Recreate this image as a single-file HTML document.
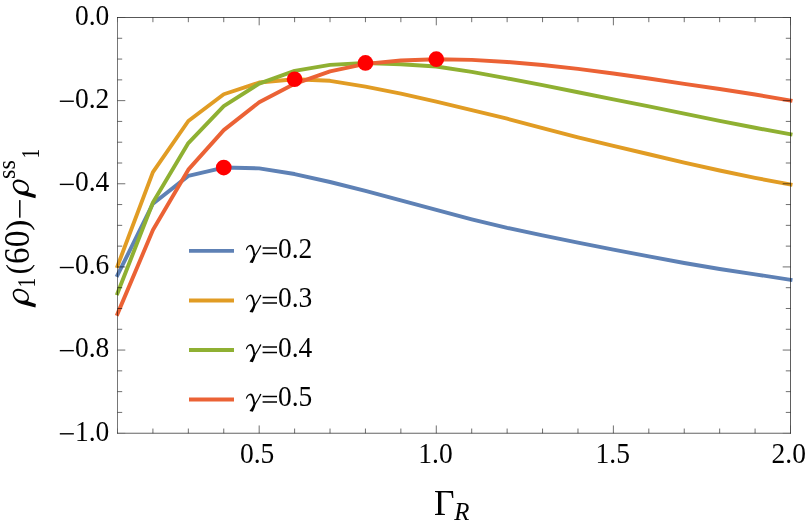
<!DOCTYPE html>
<html><head><meta charset="utf-8"><title>plot</title>
<style>html,body{margin:0;padding:0;background:#fff;}svg{display:block;}text{font-family:"Liberation Serif",serif;fill:#000;}</style>
</head><body>
<svg width="810" height="523" viewBox="0 0 810 523">
<rect x="0" y="0" width="810" height="523" fill="#fff"/>
<polyline points="117.50,275.23 152.92,203.73 188.34,175.88 223.76,167.57 259.18,168.40 294.61,174.05 330.03,181.99 365.45,190.93 400.87,200.49 436.29,209.97 471.71,219.32 507.13,227.84 542.55,235.45 577.97,242.60 613.39,249.59 648.82,256.36 684.24,262.97 719.66,269.00 755.08,274.32 790.50,279.81" fill="none" stroke="#5E81B5" stroke-width="3.9" stroke-linejoin="round" stroke-linecap="square"/>
<polyline points="117.50,266.09 152.92,172.14 188.34,121.01 223.76,94.24 259.18,82.56 294.61,79.23 330.03,80.81 365.45,86.63 400.87,93.57 436.29,101.68 471.71,110.12 507.13,118.72 542.55,128.08 577.97,137.39 613.39,145.95 648.82,154.27 684.24,162.58 719.66,170.52 755.08,177.88 790.50,184.45" fill="none" stroke="#E19C24" stroke-width="3.9" stroke-linejoin="round" stroke-linecap="square"/>
<polyline points="117.50,293.28 152.92,202.49 188.34,143.04 223.76,106.17 259.18,83.60 294.61,70.88 330.03,64.89 365.45,62.94 400.87,64.31 436.29,66.51 471.71,71.87 507.13,78.44 542.55,85.05 577.97,92.24 613.39,99.39 648.82,106.34 684.24,113.57 719.66,120.80 755.08,127.74 790.50,134.31" fill="none" stroke="#8FB032" stroke-width="3.9" stroke-linejoin="round" stroke-linecap="square"/>
<polyline points="117.50,313.85 152.92,230.09 188.34,169.65 223.76,130.15 259.18,102.30 294.61,83.80 330.03,71.29 365.45,63.93 400.87,60.52 436.29,59.19 471.71,59.90 507.13,61.94 542.55,65.01 577.97,68.92 613.39,73.54 648.82,78.52 684.24,83.93 719.66,89.00 755.08,94.53 790.50,100.52" fill="none" stroke="#EB6235" stroke-width="3.9" stroke-linejoin="round" stroke-linecap="square"/>
<g stroke="#000" fill="none">
<path d="M117.5 17.1V433.64" stroke-width="0.54"/>
<path d="M790.5 17.1V433.64" stroke-width="0.63"/>
<path d="M117.2 17.5H790.9" stroke-width="0.66"/>
<path d="M117.2 433.24H790.9" stroke-width="0.62"/>
</g>
<g stroke="#000" stroke-width="0.57" fill="none">
<path stroke-opacity="0.3" d="M117.50 433.24v-4.7M117.50 17.5v4.7M790.50 433.24v-7.8M790.50 17.5v7.8M117.5 17.50h7.8M790.5 17.50h-7.8M117.5 433.24h7.8M790.5 433.24h-7.8"/>
<path d="M152.92 433.24v-4.7M152.92 17.5v4.7M188.34 433.24v-4.7M188.34 17.5v4.7M223.76 433.24v-4.7M223.76 17.5v4.7M259.18 433.24v-7.8M259.18 17.5v7.8M294.61 433.24v-4.7M294.61 17.5v4.7M330.03 433.24v-4.7M330.03 17.5v4.7M365.45 433.24v-4.7M365.45 17.5v4.7M400.87 433.24v-4.7M400.87 17.5v4.7M436.29 433.24v-7.8M436.29 17.5v7.8M471.71 433.24v-4.7M471.71 17.5v4.7M507.13 433.24v-4.7M507.13 17.5v4.7M542.55 433.24v-4.7M542.55 17.5v4.7M577.97 433.24v-4.7M577.97 17.5v4.7M613.39 433.24v-7.8M613.39 17.5v7.8M648.82 433.24v-4.7M648.82 17.5v4.7M684.24 433.24v-4.7M684.24 17.5v4.7M719.66 433.24v-4.7M719.66 17.5v4.7M755.08 433.24v-4.7M755.08 17.5v4.7M117.5 38.28h4.7M790.5 38.28h-4.7M117.5 59.07h4.7M790.5 59.07h-4.7M117.5 79.86h4.7M790.5 79.86h-4.7M117.5 100.64h7.8M790.5 100.64h-7.8M117.5 121.42h4.7M790.5 121.42h-4.7M117.5 142.21h4.7M790.5 142.21h-4.7M117.5 163.00h4.7M790.5 163.00h-4.7M117.5 183.78h7.8M790.5 183.78h-7.8M117.5 204.56h4.7M790.5 204.56h-4.7M117.5 225.35h4.7M790.5 225.35h-4.7M117.5 246.14h4.7M790.5 246.14h-4.7M117.5 266.92h7.8M790.5 266.92h-7.8M117.5 287.70h4.7M790.5 287.70h-4.7M117.5 308.49h4.7M790.5 308.49h-4.7M117.5 329.27h4.7M790.5 329.27h-4.7M117.5 350.06h7.8M790.5 350.06h-7.8M117.5 370.85h4.7M790.5 370.85h-4.7M117.5 391.63h4.7M790.5 391.63h-4.7M117.5 412.42h4.7M790.5 412.42h-4.7"/>
</g>
<circle cx="223.76" cy="167.57" r="7.85" fill="#ff0000"/>
<circle cx="294.61" cy="79.23" r="7.85" fill="#ff0000"/>
<circle cx="365.45" cy="62.94" r="7.85" fill="#ff0000"/>
<circle cx="436.29" cy="59.19" r="7.85" fill="#ff0000"/>
<g opacity="0.999">
<text transform="translate(75.0,24.90) scale(1,1.04)" font-size="27.5">0.0</text>
<text transform="translate(75.0,108.04) scale(1,1.04)" font-size="27.5">0.2</text>
<rect x="59.8" y="100.54" width="14.05" height="1.4" fill="#000"/>
<text transform="translate(75.0,191.18) scale(1,1.04)" font-size="27.5">0.4</text>
<rect x="59.8" y="183.68" width="14.05" height="1.4" fill="#000"/>
<text transform="translate(75.0,274.32) scale(1,1.04)" font-size="27.5">0.6</text>
<rect x="59.8" y="266.82" width="14.05" height="1.4" fill="#000"/>
<text transform="translate(75.0,357.46) scale(1,1.04)" font-size="27.5">0.8</text>
<rect x="59.8" y="349.96" width="14.05" height="1.4" fill="#000"/>
<text transform="translate(75.0,440.60) scale(1,1.04)" font-size="27.5">1.0</text>
<rect x="59.8" y="433.10" width="14.05" height="1.4" fill="#000"/>
<text transform="translate(239.97,462.55) scale(1,1.04)" font-size="27.5">0.5</text>
<text transform="translate(418.3,462.55) scale(1,1.04)" font-size="27.5">1.0</text>
<text transform="translate(595.55,462.55) scale(1,1.04)" font-size="27.5">1.5</text>
<text transform="translate(771.56,462.55) scale(1,1.04)" font-size="27.5">2.0</text>
<path d="M189 250.90H234" stroke="#5E81B5" stroke-width="3.9" fill="none"/>
<g transform="translate(242.00,240.00) scale(0.04969)" fill="#000" stroke="none"><path d="M78 198 C88 145 128 98 176 98 C228 98 250 190 266 300 L230 324 C216 215 198 140 162 132 C135 128 108 162 97 204 Z"/><path d="M366 104 L392 114 C352 200 302 272 260 342 L238 330 C283 260 332 190 366 104 Z"/><path d="M228 312 L270 318 C264 372 240 420 218 464 L150 452 C176 410 214 362 228 312 Z"/></g>
<path d="M262.6 247.95H277M262.6 253.40H277" stroke="#000" stroke-width="1.5" fill="none"/>
<text transform="translate(277.94,257.65) scale(1,1.04)" font-size="27.5">0.2</text>
<path d="M189 300.45H234" stroke="#E19C24" stroke-width="3.9" fill="none"/>
<g transform="translate(242.00,289.55) scale(0.04969)" fill="#000" stroke="none"><path d="M78 198 C88 145 128 98 176 98 C228 98 250 190 266 300 L230 324 C216 215 198 140 162 132 C135 128 108 162 97 204 Z"/><path d="M366 104 L392 114 C352 200 302 272 260 342 L238 330 C283 260 332 190 366 104 Z"/><path d="M228 312 L270 318 C264 372 240 420 218 464 L150 452 C176 410 214 362 228 312 Z"/></g>
<path d="M262.6 297.50H277M262.6 302.95H277" stroke="#000" stroke-width="1.5" fill="none"/>
<text transform="translate(277.94,307.20) scale(1,1.04)" font-size="27.5">0.3</text>
<path d="M189 350.00H234" stroke="#8FB032" stroke-width="3.9" fill="none"/>
<g transform="translate(242.00,339.10) scale(0.04969)" fill="#000" stroke="none"><path d="M78 198 C88 145 128 98 176 98 C228 98 250 190 266 300 L230 324 C216 215 198 140 162 132 C135 128 108 162 97 204 Z"/><path d="M366 104 L392 114 C352 200 302 272 260 342 L238 330 C283 260 332 190 366 104 Z"/><path d="M228 312 L270 318 C264 372 240 420 218 464 L150 452 C176 410 214 362 228 312 Z"/></g>
<path d="M262.6 347.05H277M262.6 352.50H277" stroke="#000" stroke-width="1.5" fill="none"/>
<text transform="translate(277.94,356.75) scale(1,1.04)" font-size="27.5">0.4</text>
<path d="M189 399.55H234" stroke="#EB6235" stroke-width="3.9" fill="none"/>
<g transform="translate(242.00,388.65) scale(0.04969)" fill="#000" stroke="none"><path d="M78 198 C88 145 128 98 176 98 C228 98 250 190 266 300 L230 324 C216 215 198 140 162 132 C135 128 108 162 97 204 Z"/><path d="M366 104 L392 114 C352 200 302 272 260 342 L238 330 C283 260 332 190 366 104 Z"/><path d="M228 312 L270 318 C264 372 240 420 218 464 L150 452 C176 410 214 362 228 312 Z"/></g>
<path d="M262.6 396.60H277M262.6 402.05H277" stroke="#000" stroke-width="1.5" fill="none"/>
<text transform="translate(277.94,406.30) scale(1,1.04)" font-size="27.5">0.5</text>
<text transform="translate(434.02,514.56) scale(0.3546,0.3528)" font-size="100">Γ</text>
<text transform="translate(454.21,519.78) scale(0.2485,0.2481)" font-size="100" font-style="italic">R</text>
<g transform="translate(0.00,280.00) scale(0.05737)" fill="#000" stroke="none"><path fill-rule="evenodd" d="M222 236 C222 190 262 152 318 152 C400 152 505 215 505 300 C505 335 495 355 480 372 L625 418 L618 478 L380 418 C290 395 222 320 222 236 Z M246 240 C246 300 305 362 400 362 C450 362 482 340 482 300 C482 240 400 188 322 188 C275 188 246 207 246 240 Z"/></g>
<text transform="translate(35.10,287.39) rotate(-90) scale(0.1929,0.2455)" font-size="100">1</text>
<text transform="translate(27.50,274.49) rotate(-90) scale(0.3165,0.3105)" font-size="100">(</text>
<text transform="translate(28.62,264.10) rotate(-90) scale(0.3298,0.3497)" font-size="100">6</text>
<text transform="translate(28.62,247.33) rotate(-90) scale(0.3379,0.3484)" font-size="100">0</text>
<text transform="translate(27.50,230.79) rotate(-90) scale(0.3355,0.3105)" font-size="100">)</text>
<rect x="19.05" y="200.1" width="1.5" height="17.6" fill="#000"/>
<g transform="translate(0.00,170.85) scale(0.05737)" fill="#000" stroke="none"><path fill-rule="evenodd" d="M222 236 C222 190 262 152 318 152 C400 152 505 215 505 300 C505 335 495 355 480 372 L625 418 L618 478 L380 418 C290 395 222 320 222 236 Z M246 240 C246 300 305 362 400 362 C450 362 482 340 482 300 C482 240 400 188 322 188 C275 188 246 207 246 240 Z"/></g>
<text transform="translate(15.21,179.02) rotate(-90) scale(0.2427,0.2442)" font-size="100">ss</text>
<text transform="translate(39.00,158.54) rotate(-90) scale(0.1929,0.2502)" font-size="100">1</text>
</g>
</svg></body></html>
